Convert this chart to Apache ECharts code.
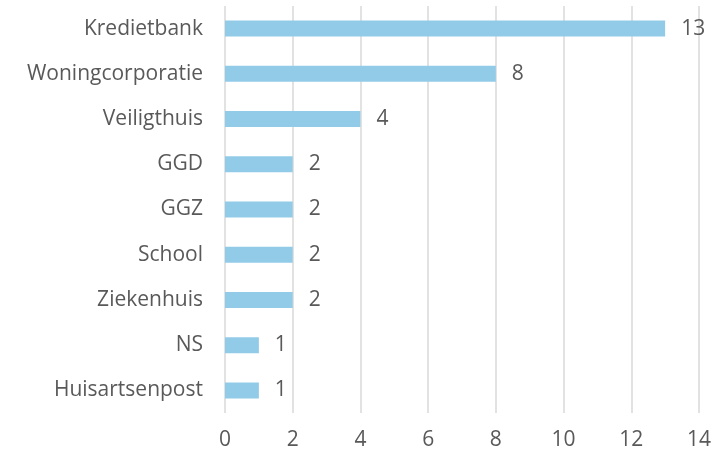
<html>
<head>
<meta charset="utf-8">
<script src="https://cdn.jsdelivr.net/npm/echarts@6/dist/echarts.min.js"></script>
<style>
  html, body { margin: 0; padding: 0; background: #fff; }
  #chart { width: 715px; height: 453px; }
</style>
</head>
<body>
<div id="chart"></div>
<script>
var categories = ['Kredietbank', 'Woningcorporatie', 'Veiligthuis', 'GGD', 'GGZ', 'School', 'Ziekenhuis', 'NS', 'Huisartsenpost'];
var values = [13, 8, 4, 2, 2, 2, 2, 1, 1];
var xTicks = [0, 2, 4, 6, 8, 10, 12, 14];

var font = '"Open Sans", "Noto Sans", sans-serif';
var textColor = '#595959';

var myChart = echarts.init(document.getElementById('chart'));

var option = {
    animation: false,
    grid: {
        top: 6,
        bottom: 40,
        left: 225,
        right: 16,
        containLabel: false
    },
    xAxis: {
        type: 'value',
        min: xTicks[0],
        max: xTicks[xTicks.length - 1],
        interval: 2,
        axisLine: { show: false },
        axisTick: { show: false },
        axisLabel: {
            color: textColor,
            fontFamily: font,
            fontSize: 21,
            margin: 17
        },
        splitLine: {
            show: true,
            lineStyle: { color: '#d9d9d9', width: 1.5 }
        }
    },
    yAxis: {
        type: 'category',
        inverse: true,
        data: categories,
        axisLine: { show: false },
        axisTick: { show: false },
        axisLabel: {
            color: textColor,
            fontFamily: font,
            fontSize: 21,
            margin: 22
        }
    },
    series: [{
        type: 'bar',
        data: values,
        barWidth: 16,
        itemStyle: { color: '#92cbe7' },
        label: {
            show: true,
            position: 'right',
            distance: 16,
            color: textColor,
            fontFamily: font,
            fontSize: 21
        }
    }]
};

myChart.setOption(option);
</script>
</body>
</html>
